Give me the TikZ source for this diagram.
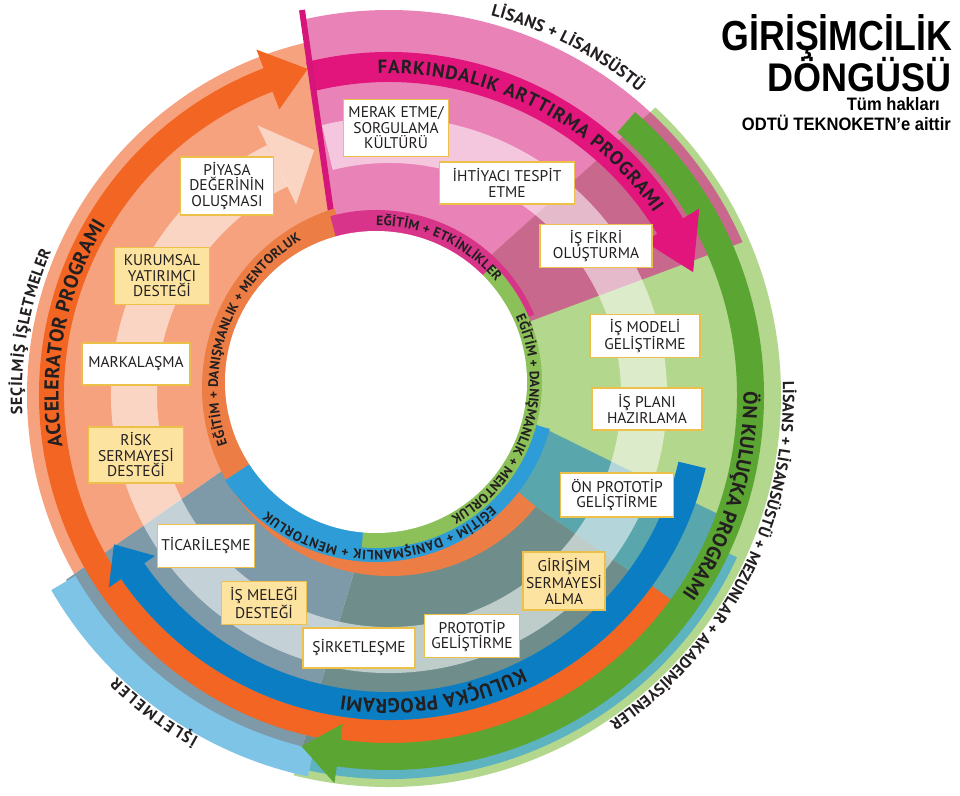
\documentclass[tikz,border=0pt]{standalone}
\usepackage{fontspec}
\setmainfont{PT Sans}
\newfontfamily\titlefont{Liberation Sans}
\usetikzlibrary{decorations.text}
\definecolor{salmon}{HTML}{F6A27E}
\definecolor{pinkf}{HTML}{E983B7}
\definecolor{rose}{HTML}{C7688C}
\definecolor{lgreen}{HTML}{B3D78D}
\definecolor{tealf}{HTML}{5AA6AD}
\definecolor{slateg}{HTML}{6F8E8B}
\definecolor{slateb}{HTML}{7E99A8}
\definecolor{magband}{HTML}{E2157D}
\definecolor{blueband}{HTML}{0B7EC3}
\definecolor{orangeband}{HTML}{F26522}
\definecolor{greenband}{HTML}{5BA632}
\definecolor{ringorange}{HTML}{EC7E45}
\definecolor{ringblue}{HTML}{2E9DD7}
\definecolor{ringgreen}{HTML}{8BC158}
\definecolor{ringpink}{HTML}{D8348A}
\definecolor{ltblue}{HTML}{7EC4E7}
\definecolor{tealring}{HTML}{5DB3C0}
\definecolor{polec}{HTML}{D6157A}
\definecolor{boxborder}{HTML}{EDC04A}
\definecolor{boxyellow}{HTML}{FDE3A0}
\definecolor{textdark}{HTML}{231F20}
\newcommand\fBox{\fontsize{15.5}{15.5}\selectfont}
\newcommand\fBand{\fontsize{20}{20}\selectfont\bfseries}
\newcommand\fBandF{\fontsize{19}{19}\selectfont\bfseries}
\newcommand\fAudB{\fontsize{17}{17}\selectfont\bfseries}
\newcommand\fAudS{\fontsize{16}{16}\selectfont\bfseries}
\newcommand\fRing{\fontsize{13.5}{13.5}\selectfont\bfseries}
\tikzset{
  wbox/.style={draw=boxborder, line width=1.8pt, fill=white, align=center, font=\fBox, text=textdark, inner sep=1pt},
  ybox/.style={wbox, fill=boxyellow},
}
\begin{document}
\begin{tikzpicture}[x=1pt,y=-1pt]
\useasboundingbox (0,0) rectangle (960,795);
\fill[white] (0,0) rectangle (960,795);
\coordinate (O) at (389,395);
\coordinate (C1) at (376,382);
\coordinate (Co) at (390,388);
% boundary lines
\coordinate (A1) at (339,268); \coordinate (F1) at (292,-60);
\coordinate (A2) at (452,290); \coordinate (F2) at (735,36);
\coordinate (A3) at (496,334); \coordinate (F3) at (861,198);
\coordinate (A4) at (511,412); \coordinate (F4) at (870,589);
\coordinate (A5) at (475,465); \coordinate (F5) at (809,694);
\coordinate (A6) at (371,515); \coordinate (F6) at (263,879);
\coordinate (A7) at (262,443); \coordinate (F7) at (-66,672);
% green sector fill
\begin{scope}
\clip (O) circle[radius=392];
\fill[lgreen] (O) -- (A2) -- (F2) -- ([shift={(O)}]340:900) -- ([shift={(O)}]30:900) -- ([shift={(O)}]80:900) -- (F6) -- (A6) -- cycle;
\end{scope}
\begin{scope}
\clip (O) circle[radius=362];
\fill[salmon] (O) -- (A7) -- (F7) -- ([shift={(O)}]205:900) -- (F1) -- (A1) -- cycle;
\end{scope}
\begin{scope}
\clip (O) circle[radius=385];
\fill[pinkf] (O) -- (A1) -- (F1) -- ([shift={(O)}]286:900) -- (F2) -- (A2) -- cycle;
\fill[rose] (O) -- (A2) -- (F2) -- ([shift={(O)}]325:900) -- (F3) -- (A3) -- cycle;
\end{scope}
\begin{scope}
\clip (O) circle[radius=372];
\fill[tealf] (O) -- (A4) -- (F4) -- ([shift={(O)}]28:900) -- (F5) -- (A5) -- cycle;
\fill[slateg] (O) -- (A5) -- (F5) -- ([shift={(O)}]68:900) -- (F6) -- (A6) -- cycle;
\fill[slateb] (O) -- (A6) -- (F6) -- ([shift={(O)}]127:900) -- (F7) -- (A7) -- cycle;
\end{scope}
% light track arrow
\draw[white, opacity=.55, line width=46pt] ([shift={(O)}]256:255) arc[start angle=256, end angle=604, radius=255];
\fill[white, opacity=.55] ([shift={(O)}]604:212) -- ([shift={(O)}]613:256) -- ([shift={(O)}]604:300) -- cycle;
% audience rings
\draw[tealring, line width=12pt] ([shift={(O)}]25:378) arc[start angle=25, end angle=102, radius=378];
\draw[ltblue, line width=28pt] ([shift={(O)}]102:376) arc[start angle=102, end angle=150, radius=376];
% program arrows
\draw[orangeband, line width=25pt] ([shift={(O)}]36:337.5) arc[start angle=36, end angle=249.5, radius=337.5];
\fill[orangeband] ([shift={(O)}]249:306) -- ([shift={(O)}]256:336) -- ([shift={(O)}]249:370) -- cycle;
\draw[blueband, line width=28pt] ([shift={(O)}]13:311) arc[start angle=13, end angle=146, radius=311];
\fill[blueband] ([shift={(O)}]145.5:284) -- ([shift={(O)}]151.5:313) -- ([shift={(O)}]145.5:340) -- cycle;
\draw[greenband, line width=27pt] ([shift={(O)}]311:361.5) arc[start angle=311, end angle=458.5, radius=361.5];
\fill[greenband] ([shift={(O)}]458:332) -- ([shift={(O)}]464:362) -- ([shift={(O)}]458:392) -- cycle;
\draw[magband, line width=30pt] ([shift={(O)}]256:328) arc[start angle=256, end angle=329.5, radius=328];
\fill[magband] ([shift={(O)}]329:298) -- ([shift={(O)}]338:328) -- ([shift={(O)}]329:362) -- cycle;
% pole
\coordinate (poleT) at (302,10); \coordinate (poleB) at (335,240);
\draw[polec, line width=6pt] (poleT) -- (poleB);
% inner rings
\draw[ringorange, line width=68pt] ([shift={(Co)}]39:154) arc[start angle=39, end angle=253, radius=154];
\draw[ringblue, line width=60pt] ([shift={(C1)}]15:150) arc[start angle=15, end angle=147, radius=150];
\draw[ringpink, line width=52pt] ([shift={(C1)}]254.5:146) arc[start angle=254.5, end angle=337, radius=146];
\draw[ringgreen, line width=46pt] ([shift={(C1)}]315:143) arc[start angle=315, end angle=455, radius=143];
\fill[white] (C1) circle[radius=151];
% ring texts
\path[decorate, decoration={text along path, text align=fit to path, text color=textdark, text={|\fRing|EĞİTİM + ETKİNLİKLER}}] ([shift={(C1)}]270:156.5) arc[start angle=270, end angle=320, radius=156.5];
\path[decorate, decoration={text along path, text align=fit to path, text color=textdark, text={|\fRing|EĞİTİM + DANIŞMANLIK + MENTORLUK}}] ([shift={(C1)}]335:154) arc[start angle=335, end angle=421, radius=154];
\path[decorate, decoration={text along path, text align=fit to path, text color=textdark, text={|\fRing|EĞİTİM + DANIŞMANLIK + MENTORLUK}}] ([shift={(C1)}]47:168.5) arc[start angle=47, end angle=130, radius=168.5];
\path[decorate, decoration={text along path, text align=fit to path, text color=textdark, text={|\fRing|EĞİTİM + DANIŞMANLIK + MENTORLUK}}] ([shift={(Co)}]161:172) arc[start angle=161, end angle=239, radius=172];
% band texts
\path[decorate, decoration={text along path, text align=fit to path, text color=textdark, text={|\fBandF|FARKINDALIK ARTTIRMA PROGRAMI}}] ([shift={(O)}]268:321.5) arc[start angle=268, end angle=325.5, radius=321.5];
\path[decorate, decoration={text along path, text align=fit to path, text color=textdark, text={|\fBand|ÖN KULUÇKA PROGRAMI}}] ([shift={(O)}]-0.5:354.5) arc[start angle=-0.5, end angle=34, radius=354.5];
\path[decorate, decoration={text along path, text align=fit to path, text color=textdark, text={|\fBand|KULUÇKA PROGRAMI}}] ([shift={(O)}]64:304) arc[start angle=64, end angle=99, radius=304];
\path[decorate, decoration={text along path, text align=fit to path, text color=textdark, text={|\fBand|ACCELERATOR PROGRAMI}}] ([shift={(O)}]171:330.5) arc[start angle=171, end angle=211, radius=330.5];
% audience texts
\path[decorate, decoration={text along path, text align=fit to path, text color=textdark, text={|\fAudB|LİSANS + LİSANSÜSTÜ}}] ([shift={(O)}]285:393) arc[start angle=285, end angle=309.5, radius=393];
\path[decorate, decoration={text along path, text align=fit to path, text color=textdark, text={|\fAudS|LİSANS + LİSANSÜSTÜ + MEZUNLAR + AKADEMİSYENLER}}] ([shift={(O)}]-2:394) arc[start angle=-2, end angle=56, radius=394];
\path[decorate, decoration={text along path, text align=fit to path, text color=textdark, text={|\fAudS|SEÇİLMİŞ İŞLETMELER}}] ([shift={(O)}]177:367) arc[start angle=177, end angle=203, radius=367];
\path[decorate, decoration={text along path, text align=fit to path, text color=textdark, text={|\fAudS|İŞLETMELER}}] ([shift={(O)}]119:392) arc[start angle=119, end angle=134, radius=392];
% boxes
\node[wbox, minimum width=105pt, minimum height=57pt] (merak) at (396,128) {MERAK ETME/\\SORGULAMA\\KÜLTÜRÜ};
\node[wbox, minimum width=135pt, minimum height=42pt] (ihtiyac) at (507,183) {İHTİYACI TESPİT\\ETME};
\node[wbox, minimum width=112pt, minimum height=43pt] (fikir) at (596,246) {İŞ FİKRİ\\OLUŞTURMA};
\node[wbox, minimum width=110pt, minimum height=43pt] (model) at (645,336) {İŞ MODELİ\\GELİŞTİRME};
\node[wbox, minimum width=110pt, minimum height=42pt] (plan) at (647,409) {İŞ PLANI\\HAZIRLAMA};
\node[wbox, minimum width=113pt, minimum height=44pt] (onproto) at (617,495) {ÖN PROTOTİP\\GELİŞTİRME};
\node[ybox, minimum width=82pt, minimum height=58pt] (girisim) at (564,581) {GİRİŞİM\\SERMAYESİ\\ALMA};
\node[wbox, minimum width=95pt, minimum height=43pt] (proto) at (472,636) {PROTOTİP\\GELİŞTİRME};
\node[wbox, minimum width=112pt, minimum height=40pt] (sirket) at (359,648) {ŞİRKETLEŞME};
\node[ybox, minimum width=85pt, minimum height=43pt] (melek) at (264,603) {İŞ MELEĞİ\\DESTEĞİ};
\node[wbox, minimum width=97pt, minimum height=43pt] (ticari) at (206,546) {TİCARİLEŞME};
\node[ybox, minimum width=95pt, minimum height=56pt] (risk) at (136,455) {RİSK\\SERMAYESİ\\DESTEĞİ};
\node[wbox, minimum width=108pt, minimum height=42pt] (marka) at (136,364) {MARKALAŞMA};
\node[ybox, minimum width=95pt, minimum height=57pt] (kurumsal) at (162,276) {KURUMSAL\\YATIRIMCI\\DESTEĞİ};
\node[wbox, minimum width=93pt, minimum height=58pt] (piyasa) at (227,186) {PİYASA\\DEĞERİNİN\\OLUŞMASI};
% title
\node[anchor=base east, inner sep=0pt] (t1) at (952,50) {\titlefont\bfseries\fontsize{42}{42}\selectfont\scalebox{0.85}[1]{GİRİŞİMCİLİK}};
\node[anchor=base east, inner sep=0pt] (t2) at (952,91) {\titlefont\bfseries\fontsize{40}{40}\selectfont\scalebox{0.9}[1]{DÖNGÜSÜ}};
\node[anchor=base east, inner sep=0pt] (t3) at (940,110) {\titlefont\bfseries\fontsize{18}{18}\selectfont\scalebox{0.92}[1]{Tüm hakları}};
\node[anchor=base east, inner sep=0pt] (t4) at (951,130) {\titlefont\bfseries\fontsize{18}{18}\selectfont\scalebox{0.92}[1]{ODTÜ TEKNOKETN’e aittir}};
\end{tikzpicture}
\end{document}
